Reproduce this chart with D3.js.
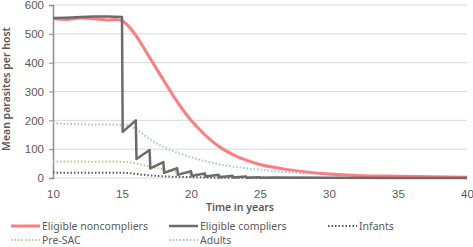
<!DOCTYPE html>
<html lang="en">
<head>
<meta charset="UTF-8">
<title>Mean parasites per host</title>
<script src="https://cdn.jsdelivr.net/npm/d3@7"></script>
<style>
    body { margin: 0; background: #fff; font-family: "Noto Sans", sans-serif; }
    svg text { fill: #595959; }
</style>
</head>
<body>
<svg id="main" width="473" height="247"></svg>
<script>
    // years for the smooth series
    const years = [10, 11, 12, 13, 14, 14.5, 15, 15.5, 16, 17, 18, 19, 20, 21, 22, 23, 24, 25, 26, 27, 28, 30, 32, 35, 40];
    const noncompliers = [553, 550, 555, 552, 548, 550, 545, 525, 495, 418, 340, 265, 200, 150, 110, 82, 62, 47, 37, 29, 23, 14, 9, 6, 3];
    const adults = [190, 188, 186, 185, 186, 185, 185, 182, 170, 135, 108, 88, 72, 59, 48, 40, 34, 29, 24, 20, 17, 12, 8, 5, 2];
    const preSAC = [58, 57, 57, 56, 57, 57, 56, 55, 50, 40, 30, 21, 15, 10, 7, 5, 4, 3, 2.5, 2, 1.5, 1, 0.5, 0.3, 0];
    const infants = [19, 18, 18, 18, 18, 18, 18, 17, 14, 9, 6, 4, 3, 2, 1, 1, 0.5, 0.5, 0.3, 0.2, 0.2, 0, 0, 0, 0];

    // compliers: sawtooth after yearly treatment
    const complierYears = [10, 11, 12, 13, 14, 15, 15.05, 16, 16.05, 17, 17.05, 18, 18.05, 19, 19.05, 20, 20.05, 21, 21.05, 22, 22.05, 23, 23.05, 24, 24.05, 25, 25.05, 26, 30, 35, 40];
    const compliers = [555, 556, 558, 560, 560, 558, 160, 200, 66, 97, 33, 55, 18, 34, 11, 24, 7, 16, 5, 11, 3, 8, 2, 5, 1, 3, 1, 2, 0.5, 0.2, 0];

    const yTicks = [0, 100, 200, 300, 400, 500, 600];
    const xTicks = [10, 15, 20, 25, 30, 35, 40];

    const series = [
        {name: 'Eligible noncompliers', x: years, y: noncompliers, color: '#ff7c80', width: 3, dash: null},
        {name: 'Eligible compliers', x: complierYears, y: compliers, color: '#6b6b6b', width: 2.5, dash: null},
        {name: 'Infants', x: years, y: infants, color: '#595959', width: 2, dash: '1.5,2'},
        {name: 'Pre-SAC', x: years, y: preSAC, color: '#a9d18e', width: 2, dash: '1.5,2'},
        {name: 'Adults', x: years, y: adults, color: '#9dc3e6', width: 2, dash: '1.5,2'}
    ];

    const svg = d3.select('svg#main');

    const xScale = d3.scaleLinear().domain([10, 40]).range([53, 467]);
    const yScale = d3.scaleLinear().domain([0, 600]).range([178, 5]);

    // gridlines
    svg.append('g')
        .selectAll('line')
        .data(yTicks)
        .enter()
        .append('line')
        .attr('x1', xScale(10)).attr('x2', xScale(40))
        .attr('y1', d => yScale(d)).attr('y2', d => yScale(d))
        .attr('stroke', '#d9d9d9').attr('stroke-width', 1);

    // y axis
    const yAxis = svg.append('g')
        .attr('transform', `translate(${xScale(10)},0)`)
        .call(d3.axisLeft(yScale).tickValues(yTicks).tickSize(4).tickPadding(5));
    yAxis.select('.domain').attr('stroke', '#8c8c8c').attr('stroke-width', 1.5);
    yAxis.selectAll('.tick line').attr('stroke', '#8c8c8c');
    yAxis.selectAll('text').style('font-size', '11.5px').style('fill', '#595959').attr('font-family', null);

    // x axis labels only
    const xAxis = svg.append('g')
        .attr('transform', `translate(0,${yScale(0)})`)
        .call(d3.axisBottom(xScale).tickValues(xTicks).tickSize(0).tickPadding(12));
    xAxis.select('.domain').remove();
    xAxis.selectAll('text').style('font-size', '11.5px').style('fill', '#595959').attr('font-family', null);

    // axis titles
    svg.append('text')
        .attr('x', 240).attr('y', 211)
        .attr('text-anchor', 'middle')
        .style('font-size', '10.5px').style('font-weight', '600')
        .text('Time in years');
    svg.append('text')
        .attr('transform', 'translate(10,89) rotate(-90)')
        .attr('text-anchor', 'middle')
        .style('font-size', '10.5px').style('font-weight', '600')
        .text('Mean parasites per host');

    const line = d3.line()
        .x(d => xScale(d[0]))
        .y(d => yScale(d[1]))
        .curve(d3.curveMonotoneX);
    const lineStraight = d3.line()
        .x(d => xScale(d[0]))
        .y(d => yScale(d[1]));

    const drawOrder = [4, 3, 2, 0, 1];
    drawOrder.forEach(i => {
        const s = series[i];
        const pts = s.x.map((x, j) => [x, s.y[j]]);
        svg.append('path')
            .attr('d', i === 1 ? lineStraight(pts) : line(pts))
            .attr('fill', 'none')
            .attr('stroke', s.color)
            .attr('stroke-width', s.width)
            .attr('stroke-dasharray', s.dash)
            .attr('stroke-linejoin', 'round');
    });

    // legend
    const legendPos = [[11, 226], [169, 226], [328, 226], [11, 240], [169, 240]];
    const legend = svg.append('g');
    series.forEach((s, i) => {
        const [lx, ly] = legendPos[i];
        legend.append('line')
            .attr('x1', lx).attr('x2', lx + 29)
            .attr('y1', ly).attr('y2', ly)
            .attr('stroke', s.color)
            .attr('stroke-width', s.width)
            .attr('stroke-dasharray', s.dash);
        legend.append('text')
            .attr('x', lx + 31).attr('y', ly + 4)
            .style('font-size', '10.5px')
            .text(s.name);
    });
</script>
</body>
</html>
